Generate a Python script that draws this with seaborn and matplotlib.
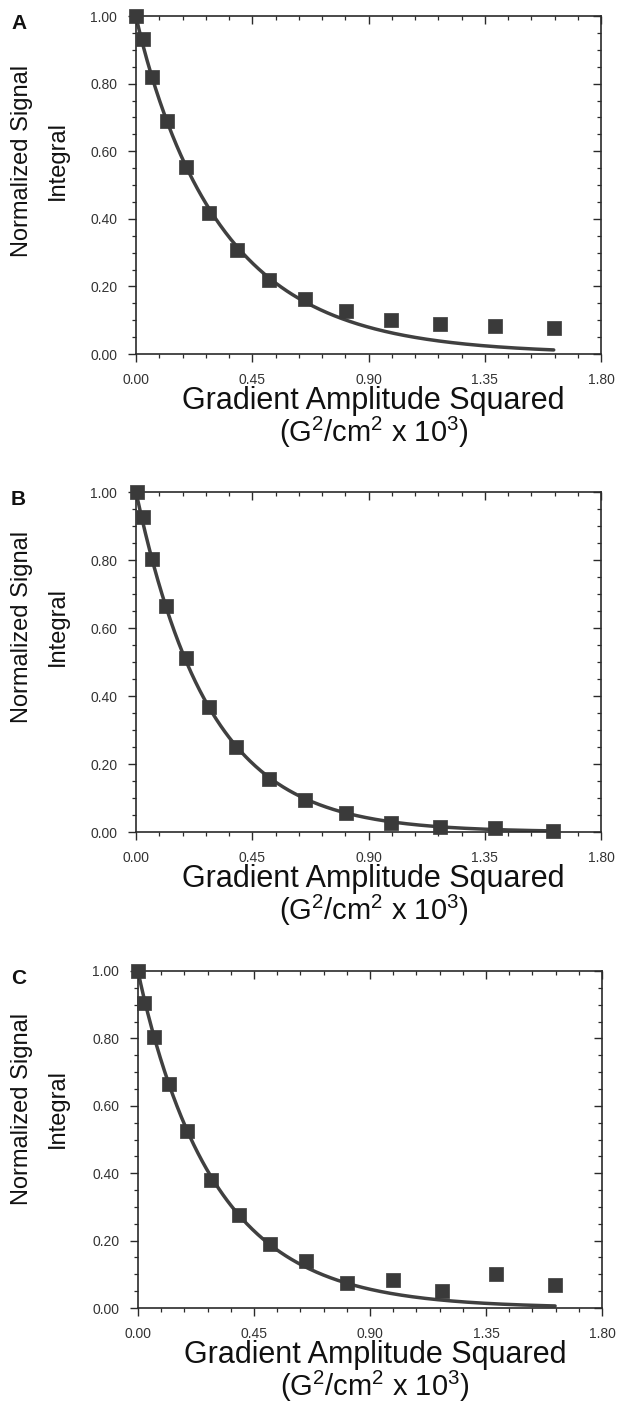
import numpy as np
import pandas as pd
import matplotlib
matplotlib.use("Agg")
import matplotlib.pyplot as plt
import seaborn as sns
from matplotlib.ticker import MultipleLocator, FormatStrFormatter

# ---------------- data ----------------
x_a = [0.000, 0.026, 0.063, 0.119, 0.192, 0.283, 0.390, 0.515, 0.654, 0.813, 0.987, 1.178, 1.390, 1.617]
y_a = [1.000, 0.931, 0.819, 0.690, 0.552, 0.418, 0.308, 0.219, 0.162, 0.128, 0.101, 0.089, 0.083, 0.077]

x_b = [0.004, 0.026, 0.063, 0.118, 0.192, 0.282, 0.389, 0.514, 0.655, 0.811, 0.986, 1.178, 1.389, 1.616]
y_b = [1.000, 0.926, 0.804, 0.664, 0.513, 0.369, 0.250, 0.156, 0.093, 0.057, 0.027, 0.016, 0.011, 0.003]

x_c = [0.000, 0.025, 0.063, 0.119, 0.191, 0.283, 0.391, 0.513, 0.653, 0.812, 0.988, 1.179, 1.389, 1.618]
y_c = [1.000, 0.905, 0.804, 0.664, 0.525, 0.379, 0.275, 0.190, 0.138, 0.073, 0.082, 0.051, 0.100, 0.067]

# fitted decay curves y = exp(-a * x**b) (parameters estimated from the drawn fit lines)
fit_a = (2.80, 0.95)
fit_b = (3.55, 1.00)
fit_c = (3.20, 0.97)

panel_letters = ["A", "B", "C"]
x_ticks = [0.00, 0.45, 0.90, 1.35, 1.80]
y_ticks = [0.00, 0.20, 0.40, 0.60, 0.80, 1.00]
ylabel_lines = ["Normalized Signal", "Integral"]
xlabel_lines = ["Gradient Amplitude Squared", r"(G$^2$/cm$^2$ x 10$^3$)"]

# ---------------- style ----------------
sns.set_theme(style="ticks")
plt.rcParams["font.family"] = ["Liberation Sans", "DejaVu Sans"]
plt.rcParams["mathtext.fontset"] = "custom"
plt.rcParams["mathtext.rm"] = "Liberation Sans"
plt.rcParams["mathtext.it"] = "Liberation Sans"

W, H = 618, 1406
fig = plt.figure(figsize=(W / 100, H / 100), dpi=100)

# axes boxes in pixels: (left, top, right, bottom)
boxes = [(136, 16, 601, 354), (136, 492, 601, 832), (138, 971, 602, 1308)]
ylabel_centers = [161, 627, 1109]

ink = "#3a3a3a"
spine_c = "#2a2a2a"

datasets = [(x_a, y_a, fit_a), (x_b, y_b, fit_b), (x_c, y_c, fit_c)]

for i, ((xs, ys, (fa, fb)), box) in enumerate(zip(datasets, boxes)):
    l, t, r, b = box
    ax = fig.add_axes([l / W, 1 - b / H, (r - l) / W, (b - t) / H])

    # fitted curve, evaluated over the measured range
    xf = np.linspace(min(xs), max(xs), 300)
    df_fit = pd.DataFrame({"x": xf, "y": np.exp(-fa * xf ** fb)})
    sns.lineplot(data=df_fit, x="x", y="y", ax=ax, color="#404040", lw=2.5,
                 estimator=None, sort=False, zorder=2)

    df = pd.DataFrame({"x": xs, "y": ys})
    sns.scatterplot(data=df, x="x", y="y", ax=ax, marker="s", s=95,
                    color=ink, edgecolor=ink, linewidth=0.5, zorder=3, clip_on=False)

    ax.set_xlim(0, 1.8)
    ax.set_ylim(0, 1.0)
    ax.set_xticks(x_ticks)
    ax.set_yticks(y_ticks)
    ax.xaxis.set_major_formatter(FormatStrFormatter("%.2f"))
    ax.yaxis.set_major_formatter(FormatStrFormatter("%.2f"))
    ax.xaxis.set_minor_locator(MultipleLocator(0.09))
    ax.yaxis.set_minor_locator(MultipleLocator(0.05))
    ax.set_xlabel("")
    ax.set_ylabel("")

    for sp in ax.spines.values():
        sp.set_visible(True)
        sp.set_color(spine_c)
        sp.set_linewidth(1.2)

    ax.tick_params(axis="both", which="major", direction="out", length=5.5, width=1.0,
                   color=spine_c, labelsize=10, labelcolor="#333333", pad=8)
    ax.tick_params(axis="both", which="minor", direction="out", length=3, width=0.9,
                   color=spine_c)

    # inward ticks on top and right
    secx = ax.secondary_xaxis("top")
    secx.set_xticks(x_ticks)
    secx.xaxis.set_minor_locator(MultipleLocator(0.09))
    secx.tick_params(which="major", direction="in", length=5.5, width=1.0, color=spine_c, labeltop=False)
    secx.tick_params(which="minor", direction="in", length=3, width=0.9, color=spine_c)
    secx.spines["top"].set_visible(False)
    secy = ax.secondary_yaxis("right")
    secy.set_yticks(y_ticks)
    secy.yaxis.set_minor_locator(MultipleLocator(0.05))
    secy.tick_params(which="major", direction="in", length=5.5, width=1.0, color=spine_c, labelright=False)
    secy.tick_params(which="minor", direction="in", length=3, width=0.9, color=spine_c)
    secy.spines["right"].set_visible(False)

    # panel letter
    fig.text(11 / W, 1 - (t - 2) / H, panel_letters[i], fontsize=15, fontweight="bold",
             ha="left", va="top", color="#111111")

    # y label (two lines)
    yc = 1 - ylabel_centers[i] / H
    fig.text(22.5 / W, yc, ylabel_lines[0], rotation=90, ha="center", va="center",
             fontsize=17, color="#111111")
    fig.text(58 / W, yc, ylabel_lines[1], rotation=90, ha="center", va="center",
             fontsize=17, color="#111111")

    # x label (two lines)
    xc = ((l + r) / 2 + 5) / W
    fig.text(xc, 1 - (b + 55) / H, xlabel_lines[0], ha="center", va="baseline",
             fontsize=22, color="#111111")
    fig.text(xc, 1 - (b + 88) / H, xlabel_lines[1], ha="center", va="baseline",
             fontsize=21, color="#111111")

fig.savefig("out.png", dpi=100)
